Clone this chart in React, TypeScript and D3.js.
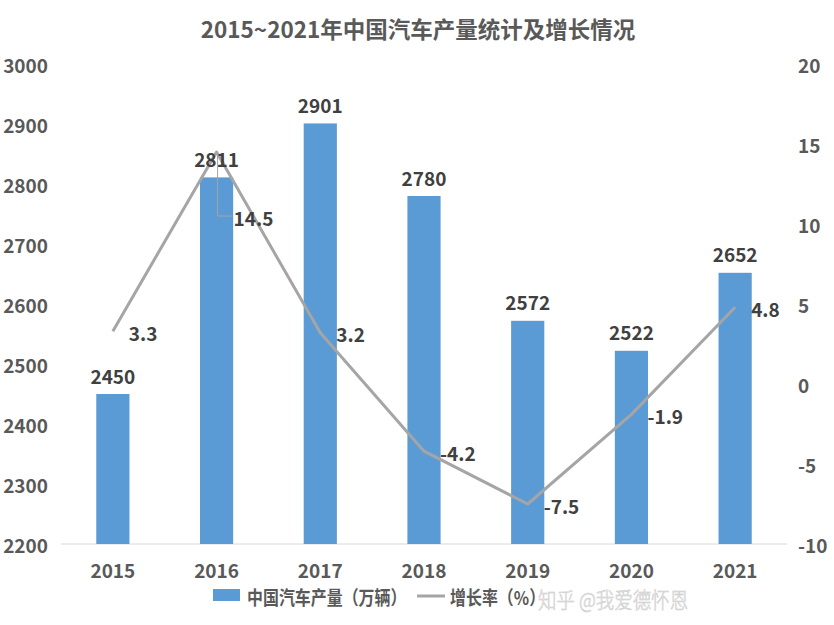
import React from "react";
import { scaleBand, scaleLinear, line } from "d3";

const years = ["2015", "2016", "2017", "2018", "2019", "2020", "2021"];
const output = [2450, 2811, 2901, 2780, 2572, 2522, 2652];
const growth = [3.3, 14.5, 3.2, -4.2, -7.5, -1.9, 4.8];
const leftTicks = [2200, 2300, 2400, 2500, 2600, 2700, 2800, 2900, 3000];
const rightTicks = [-10, -5, 0, 5, 10, 15, 20];

export default function App() {
  const width = 834;
  const height = 625;
  const font = "'Noto Sans CJK SC', 'Noto Sans', sans-serif";
  const plot = { left: 61, right: 787, top: 64, bottom: 544 };

  const x = scaleBand<string>()
    .domain(years)
    .range([plot.left, plot.right])
    .paddingInner(0.68)
    .paddingOuter(0.34);
  const yL = scaleLinear().domain([2200, 3000]).range([plot.bottom, plot.top]);
  const yR = scaleLinear().domain([-10, 20]).range([plot.bottom, plot.top]);
  const cx = (d: string) => (x(d) as number) + x.bandwidth() / 2;

  const linePath = line<number>()
    .x((_, i) => cx(years[i]))
    .y(d => yR(d))(growth) as string;

  // legend text in the reference is narrow and tall
  const squeeze = (x0: number) => `translate(${x0},0) scale(0.84,1) translate(${-x0},0)`;

  return (
    <div style={{ position: "absolute", left: 0, top: 0 }}>
      <svg width={width} height={height} style={{ display: "block", background: "#fff" }} fontFamily={font}>
        <text x={418} y={28} textAnchor="middle" dominantBaseline="central" fontSize={22.5} fontWeight={700} fill="#595959">
          2015~2021年中国汽车产量统计及增长情况
        </text>

        {leftTicks.map(t => (
          <text key={`l${t}`} x={48} y={yL(t)} textAnchor="end" dominantBaseline="central" fontSize={19} fontWeight={700} fill="#595959">
            {t}
          </text>
        ))}
        {rightTicks.map(t => (
          <text key={`r${t}`} x={798} y={yR(t)} textAnchor="start" dominantBaseline="central" fontSize={19} fontWeight={700} fill="#595959">
            {t}
          </text>
        ))}

        <line x1={plot.left} x2={plot.right} y1={plot.bottom} y2={plot.bottom} stroke="#d9d9d9" strokeWidth={1} />

        {years.map(yr => (
          <text key={`x${yr}`} x={cx(yr)} y={569} textAnchor="middle" dominantBaseline="central" fontSize={19} fontWeight={700} fill="#595959">
            {yr}
          </text>
        ))}

        {output.map((v, i) => (
          <rect
            key={`b${i}`}
            x={x(years[i])}
            y={yL(v)}
            width={x.bandwidth()}
            height={plot.bottom - yL(v)}
            fill="#5b9bd5"
          />
        ))}

        <path d={linePath} fill="none" stroke="#a5a5a5" strokeWidth={3} strokeLinejoin="round" />

        {output.map((v, i) => (
          <text key={`bl${i}`} x={cx(years[i])} y={yL(v) - 19} textAnchor="middle" dominantBaseline="central" fontSize={19} fontWeight={700} fill="#404040">
            {v}
          </text>
        ))}

        {growth.map((v, i) => {
          const px = cx(years[i]);
          const py = yR(v);
          if (i === 1) {
            return (
              <g key={`gl${i}`}>
                <polyline points={`${px + 1},${py + 2} ${px + 1},${py + 64} ${px + 15},${py + 64}`} fill="none" stroke="#a5a5a5" strokeWidth={1} />
                <text x={px + 17} y={py + 65} textAnchor="start" dominantBaseline="central" fontSize={19} fontWeight={700} fill="#404040">
                  {v}
                </text>
              </g>
            );
          }
          return (
            <text key={`gl${i}`} x={px + 16} y={py + 1} textAnchor="start" dominantBaseline="central" fontSize={19} fontWeight={700} fill="#404040">
              {v}
            </text>
          );
        })}

        <rect x={213} y={589} width={27} height={12} fill="#5b9bd5" />
        <text x={247} y={597} transform={squeeze(247)} dominantBaseline="central" fontSize={19} fontWeight={700} fill="#595959">
          中国汽车产量（万辆）
        </text>
        <line x1={417} x2={445} y1={596} y2={596} stroke="#a5a5a5" strokeWidth={3} />
        <text x={450} y={597} transform={squeeze(450)} dominantBaseline="central" fontSize={19} fontWeight={700} fill="#595959">
          增长率（%）
        </text>

        <text x={538} y={598} transform={squeeze(538)} dominantBaseline="central" fontSize={22} fontWeight={300} fill="#ececec" stroke="#c8c8c8" strokeWidth={0.5}>
          知乎 @我爱德怀恩
        </text>
      </svg>
    </div>
  );
}
